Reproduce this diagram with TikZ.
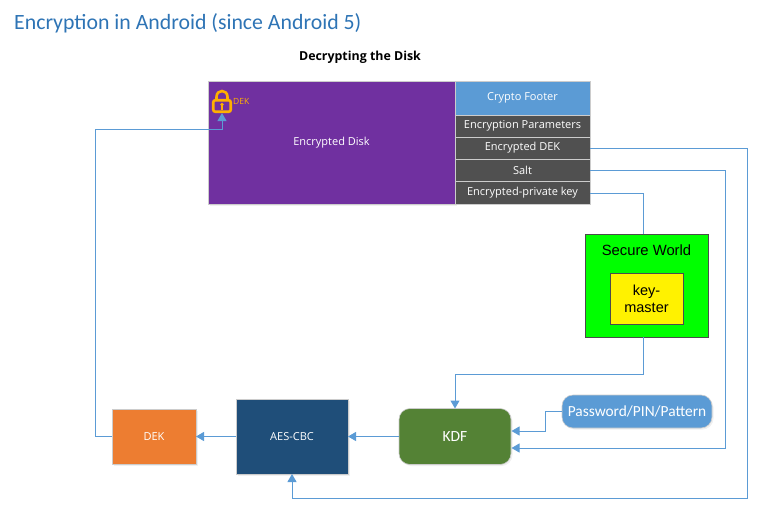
\documentclass[tikz,border=0pt]{standalone}
\usepackage{fontspec}
\setmainfont{Open Sans}
\newfontfamily\titlefont{Carlito}
\newfontfamily\arialfont{Liberation Sans}
\usetikzlibrary{arrows.meta,shadows}
\definecolor{linkblue}{HTML}{5B9BD5}
\definecolor{titleblue}{HTML}{2E74B5}
\definecolor{diskpurple}{HTML}{7030A0}
\definecolor{fieldgrey}{HTML}{505050}
\definecolor{lockorange}{HTML}{FFB000}
\definecolor{dekorange}{HTML}{ED7D31}
\definecolor{aesnavy}{HTML}{1F4E79}
\definecolor{kdfgreen}{HTML}{548235}
\tikzset{
box/.style={rectangle,inner sep=0pt,outer sep=0pt,text=white,align=center,font=\fontsize{11}{13}\selectfont,draw=black!20,line width=.6pt},
soft/.style={drop shadow={opacity=.12,shadow xshift=1.5pt,shadow yshift=-1.5pt}},
field/.style={box,fill=fieldgrey,minimum width=135pt,minimum height=22pt},
link/.style={draw=linkblue,line width=1pt},
arrowlink/.style={link,-{Triangle[length=8pt,width=9pt]}},
lockline/.style={lockorange,line width=2.6pt},
}
\begin{document}
\begin{tikzpicture}[x=1pt,y=-1pt]
\useasboundingbox (0,0) rectangle (769,517);
\node[anchor=west,text=titleblue,font=\titlefont\fontsize{21.8}{24}\selectfont,inner sep=0pt] (title) at (14,23) {Encryption in Android (since Android 5)};
\node[font=\bfseries\fontsize{12.4}{14}\selectfont,inner sep=0pt] (subtitle) at (360,57) {Decrypting the Disk};
% disk and crypto footer
\node[box,soft,fill=diskpurple,minimum width=247pt,minimum height=123pt] (disk) at (331.5,142.5) {Encrypted Disk};
\node[box,fill=linkblue,minimum width=135pt,minimum height=34pt] (footer) at (522.5,98) {Crypto Footer};
\node[field] (params) at (522.5,126) {Encryption Parameters};
\node[field] (dekfield) at (522.5,148) {Encrypted DEK};
\node[field] (salt) at (522.5,170) {Salt};
\node[field,minimum height=23pt] (keyfield) at (522.5,193) {Encrypted-private key};
% lock
\node[rectangle,rounded corners=2pt,draw=lockorange,line width=2.6pt,minimum width=17.5pt,minimum height=11.5pt,inner sep=0pt] (lock) at (222,106) {};
\draw[lockline] (216.5,100) -- (216.5,97) .. controls (216.5,89) and (227.5,89) .. (227.5,97) -- (227.5,100);
\fill[lockorange] (222,104.5) circle (1.8pt);
\fill[lockorange] (221,105) rectangle (223,110);
\node[text=lockorange,font=\fontsize{8.5}{10}\selectfont,inner sep=0pt,anchor=west] (deklabel) at (233,101) {DEK};
% secure world
\node[rectangle,draw=black!70,fill=green,minimum width=123pt,minimum height=103pt,inner sep=0pt] (world) at (646.5,285.5) {};
\node[inner sep=0pt,font=\arialfont\fontsize{14.8}{16}\selectfont] (worldlabel) at (646.5,250) {Secure World};
\node[rectangle,draw=black!70,fill=yellow,minimum width=73pt,minimum height=51pt,inner sep=0pt,align=center,font=\arialfont\fontsize{14.5}{17}\selectfont] (keymaster) at (646.5,298.5) {key-\\master};
% bottom row
\node[box,soft,fill=dekorange,minimum width=84pt,minimum height=55pt] (dek) at (154,436.5) {DEK};
\node[box,soft,fill=aesnavy,minimum width=112pt,minimum height=75pt] (aes) at (292,436.5) {AES-CBC};
\node[box,soft,fill=kdfgreen,rounded corners=11pt,minimum width=112pt,minimum height=56pt,font=\titlefont\fontsize{15.5}{18}\selectfont] (kdf) at (455,436.5) {KDF};
\node[box,soft,fill=linkblue,rounded corners=11pt,minimum width=150pt,minimum height=33pt,font=\titlefont\fontsize{15.4}{18}\selectfont] (password) at (637,411.5) {Password/PIN/Pattern};
% connectors
\coordinate (worldtop) at (643,234);
\coordinate (worldbottom) at (643,337);
\coordinate (kdfpass) at (511.5,431);
\coordinate (kdfsalt) at (511.5,448);
\draw[arrowlink] (kdf) -- (aes);
\draw[arrowlink] (aes) -- (dek);
\draw[arrowlink] (dek.west) -- (95,436.5) -- (95,129) -- (222,129) -- (lock.south);
\draw[arrowlink] (dekfield.east) -- (747,148) -- (747,498) -- (292,498) -- (aes.south);
\draw[arrowlink] (salt.east) -- (725,170) -- (725,448) -- (kdfsalt);
\draw[link] (keyfield.east) -| (worldtop);
\draw[arrowlink] (worldbottom) -- (643,374) -- (455,374) -- (kdf.north);
\draw[arrowlink] (password.west) -- (545,411.5) -- (545,431) -- (kdfpass);
\end{tikzpicture}
\end{document}
